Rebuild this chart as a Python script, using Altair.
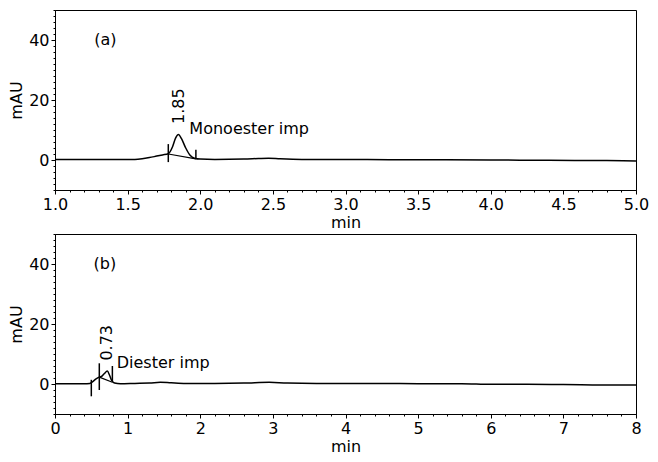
import altair as alt
import pandas as pd

FONT = "DejaVu Sans"

# ---- Panel (a) trace ----
ta_x = [1.0, 1.2, 1.4, 1.55, 1.6, 1.65, 1.7, 1.74, 1.78, 1.81, 1.83, 1.85, 1.87, 1.9, 1.93, 1.96,
        2.0, 2.1, 2.3, 2.4, 2.47, 2.55, 2.7, 3.0, 3.3, 3.6, 4.0, 4.4, 4.8, 5.0]
ta_y = [0.2, 0.2, 0.2, 0.2, 0.4, 0.8, 1.3, 1.7, 2.1, 4.5, 7.3, 8.5, 7.2, 4.0, 1.6, 0.6,
        0.3, 0.2, 0.3, 0.5, 0.6, 0.4, 0.2, 0.2, 0.1, 0.1, 0.0, -0.1, -0.2, -0.3]
ba_x = [1.78, 1.97]
ba_y = [2.0, 0.4]
ma_x = [1.78, 1.97]
ma_y1 = [-0.7, 0.4]
ma_y2 = [5.3, 3.4]

# ---- Panel (b) trace ----
tb_x = [0, 0.2, 0.4, 0.48, 0.52, 0.56, 0.6, 0.64, 0.68, 0.72, 0.75, 0.78, 0.82, 0.9, 1.1, 1.3,
        1.45, 1.6, 1.8, 2.2, 2.6, 2.95, 3.2, 3.6, 4.0, 4.5, 5.0, 5.6, 6.0, 6.5, 7.0, 7.5, 8.0]
tb_y = [0.1, 0.1, 0.1, 0.2, 0.8, 1.6, 2.2, 2.5, 3.5, 4.3, 3.0, 1.2, 0.3, 0.1, 0.2, 0.3,
        0.6, 0.4, 0.2, 0.2, 0.3, 0.6, 0.3, 0.2, 0.2, 0.2, 0.1, 0.1, -0.1, -0.1, -0.2, -0.3, -0.3]
bb_x = [0.61, 0.79]
bb_y = [2.3, 0.6]
mb_x = [0.50, 0.61, 0.79]
mb_y1 = [-4.1, -2.0, 1.0]
mb_y2 = [1.4, 6.9, 6.0]

# ---- Annotations ----
la_text = ["(a)", "Monoester imp"]
la_x = [1.27, 1.925]
la_y = [40, 10.5]
ra_text = ["1.85"]
ra_x = [1.856]
ra_y = [12]

lb_text = ["(b)", "Diester imp"]
lb_x = [0.53, 0.85]
lb_y = [40, 7]
rb_text = ["0.73"]
rb_x = [0.71]
rb_y = [7.8]

# ---- Axis ticks ----
xa_major = [1.0, 1.5, 2.0, 2.5, 3.0, 3.5, 4.0, 4.5, 5.0]
xa_minor = [round(1.0 + 0.1 * i, 1) for i in range(41)]
xb_major = [0, 1, 2, 3, 4, 5, 6, 7, 8]
xb_minor = [round(0.2 * i, 1) for i in range(41)]
y_major = [0, 20, 40]
y_minor = list(range(-10, 51, 2))
Y_DOMAIN = [-10, 50]


def make_panel(tx, ty, bx, by, mx, my1, my2, ltext, lx, ly, rtext, rx, ry,
               xdom, xmajor, xminor, fmt, h):
    xs = alt.Scale(domain=xdom, nice=False, zero=False)
    ys = alt.Scale(domain=Y_DOMAIN, nice=False, zero=False)

    xmaj = alt.Axis(values=xmajor, format=fmt, title="min", orient="bottom",
                    tickSize=4, labelFlush=False, labelOverlap=False, grid=False,
                    labelPadding=2, titlePadding=2)
    ymaj = alt.Axis(values=y_major, format="d", title="mAU", orient="left",
                    tickSize=4, labelFlush=False, labelOverlap=False, grid=False,
                    labelPadding=2, titlePadding=4)
    xmin = alt.Axis(values=xminor, labels=False, title=None, orient="bottom",
                    tickSize=2, domain=False, grid=False)
    ymin = alt.Axis(values=y_minor, labels=False, title=None, orient="left",
                    tickSize=2, domain=False, grid=False)

    trace = alt.Chart(pd.DataFrame({"t": tx, "v": ty})).mark_line(
        color="black", strokeWidth=1.5, interpolate="monotone"
    ).encode(
        x=alt.X("t:Q", scale=xs, axis=xmaj),
        y=alt.Y("v:Q", scale=ys, axis=ymaj),
    )
    base = alt.Chart(pd.DataFrame({"t": bx, "v": by})).mark_line(
        color="black", strokeWidth=1.2
    ).encode(
        x=alt.X("t:Q", scale=xs, axis=xmin),
        y=alt.Y("v:Q", scale=ys, axis=ymin),
    )
    marks = alt.Chart(pd.DataFrame({"t": mx, "a": my1, "b": my2})).mark_rule(
        color="black", strokeWidth=1.5
    ).encode(
        x=alt.X("t:Q", axis=None),
        y=alt.Y("a:Q", axis=None),
        y2="b:Q",
    )
    labels = alt.Chart(pd.DataFrame({"s": ltext, "t": lx, "v": ly})).mark_text(
        align="left", baseline="middle", font=FONT, fontSize=16, color="black"
    ).encode(x=alt.X("t:Q", axis=None), y=alt.Y("v:Q", axis=None), text="s:N")
    rot = alt.Chart(pd.DataFrame({"s": rtext, "t": rx, "v": ry})).mark_text(
        align="left", baseline="middle", angle=270, font=FONT, fontSize=16, color="black"
    ).encode(x=alt.X("t:Q", axis=None), y=alt.Y("v:Q", axis=None), text="s:N")
    return alt.layer(trace, base, marks, labels, rot).resolve_axis(
        x="independent", y="independent"
    ).properties(width=581, height=h)


pa = make_panel(ta_x, ta_y, ba_x, ba_y, ma_x, ma_y1, ma_y2, la_text, la_x, la_y,
                ra_text, ra_x, ra_y, [1.0, 5.0], xa_major, xa_minor, ".1f", 180)
pb = make_panel(tb_x, tb_y, bb_x, bb_y, mb_x, mb_y1, mb_y2, lb_text, lb_x, lb_y,
                rb_text, rb_x, rb_y, [0.0, 8.0], xb_major, xb_minor, "d", 180)

chart = alt.vconcat(pa, pb, spacing=2).properties(
    padding={"left": 0, "top": 1, "right": -1, "bottom": -1},
    background="white",
).configure_view(
    stroke="black", strokeWidth=1
).configure_axis(
    labelFont=FONT, titleFont=FONT, labelFontSize=16, titleFontSize=16,
    titleFontWeight="normal", labelColor="black", titleColor="black",
    domainColor="black", tickColor="black", domainWidth=1, tickWidth=1,
)

chart.save("out.html", embed_options={"renderer": "svg", "actions": False})
